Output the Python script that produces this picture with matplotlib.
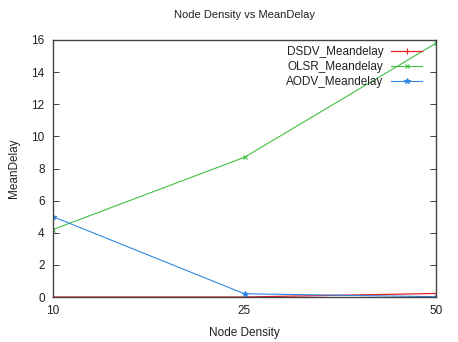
import matplotlib
matplotlib.use("Agg")
import matplotlib.pyplot as plt

plt.rcParams['font.family'] = ['Liberation Sans', 'DejaVu Sans']

node_density = ["10", "25", "50"]
dsdv = [0.0, 0.0, 0.22]
olsr = [4.2, 8.7, 15.8]
aodv = [5.0, 0.2, 0.02]

fig = plt.figure(figsize=(4.58, 3.42), dpi=100)
ax = fig.add_axes([53/458, 45/342, (436-53)/458, (297-40)/342])

x = list(range(len(node_density)))
ax.plot(x, dsdv, color='#e8202a', lw=0.9, marker='+', ms=4, mew=0.8, label='DSDV_Meandelay')
ax.plot(x, olsr, color='#40c040', lw=0.8, marker='x', ms=3.5, mew=0.8, label='OLSR_Meandelay')
ax.plot(x, aodv, color='#3088e0', lw=0.8, marker='*', ms=4, mew=0.8, label='AODV_Meandelay')

ax.set_xlim(0, 2)
ax.set_ylim(0, 16)
ax.set_xticks(x)
ax.set_xticklabels(node_density)
ax.set_yticks(range(0, 17, 2))
ax.tick_params(direction='in', length=4, width=0.6, labelsize=8.5, colors='#222222', top=False, right=True, pad=6)
for s in ax.spines.values():
    s.set_linewidth(1.0)
    s.set_color('#444444')
    s.set_zorder(3)

ax.set_title('Node Density vs MeanDelay', fontsize=8, pad=16, color='#222222')
ax.set_xlabel('Node Density', fontsize=8.5, labelpad=7, color='#222222')
ax.set_ylabel('MeanDelay', fontsize=8.5, labelpad=8, color='#222222')

leg = ax.legend(loc='upper right', bbox_to_anchor=(0.977, 0.995), frameon=False, fontsize=8.5,
                markerfirst=False, handlelength=2.7, handletextpad=0.6, labelspacing=0.25,
                borderaxespad=0.0)
for t in leg.get_texts():
    t.set_color('#222222')

fig.savefig('out.png', dpi=100)
